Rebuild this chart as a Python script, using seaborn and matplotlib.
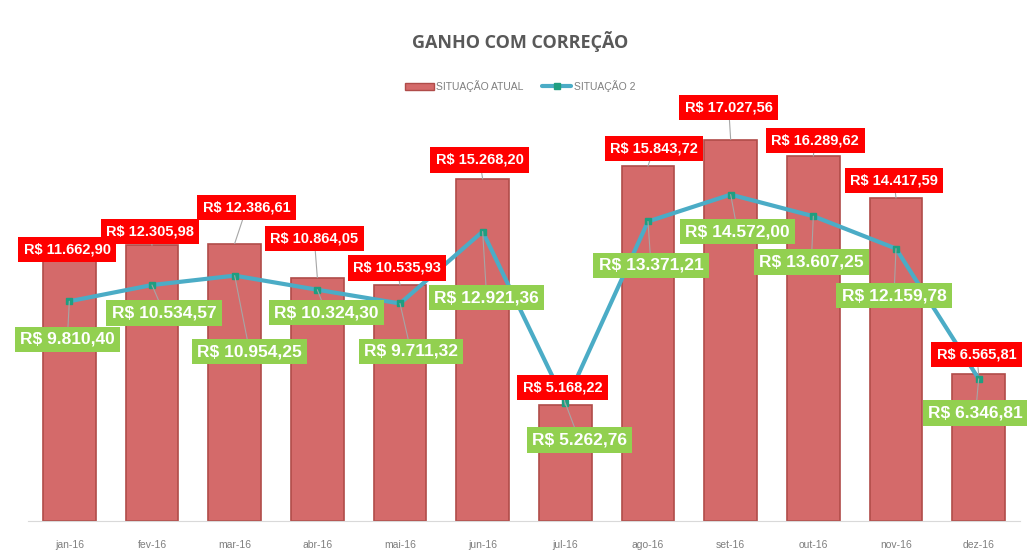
import pandas as pd
import matplotlib.pyplot as plt
import seaborn as sns
from matplotlib.patches import Patch
from matplotlib.lines import Line2D

meses = ['jan-16', 'fev-16', 'mar-16', 'abr-16', 'mai-16', 'jun-16',
         'jul-16', 'ago-16', 'set-16', 'out-16', 'nov-16', 'dez-16']
situacao_atual = [11662.90, 12305.98, 12386.61, 10864.05, 10535.93, 15268.20,
                  5168.22, 15843.72, 17027.56, 16289.62, 14417.59, 6565.81]
situacao_2 = [9810.40, 10534.57, 10954.25, 10324.30, 9711.32, 12921.36,
              5262.76, 13371.21, 14572.00, 13607.25, 12159.78, 6346.81]

df = pd.DataFrame({'Mes': meses, 'Atual': situacao_atual, 'Sit2': situacao_2})

def brl(v):
    s = f"{v:,.2f}"
    return "R$ " + s.replace(",", "X").replace(".", ",").replace("X", ".")

# label offsets in pixels (dx, dy)
off_red = [(-2, 10), (-2, 14), (12, 36), (-3, 39), (-3, 17), (-3, 19),
           (-3, 18), (6, 18), (-2, 32), (2, 16), (-2, 18), (-2, 19)]
off_green = [(-2, -38), (12, -28), (15, -76), (9, -23), (11, -48), (4, -66),
             (14, -37), (3, -44), (7, -37), (-2, -46), (-2, -47), (-3, -34)]

sns.set_style('white')
plt.rcParams['font.family'] = ['Liberation Sans', 'DejaVu Sans']

fig = plt.figure(figsize=(10.27, 5.57), dpi=100)
ax = fig.add_axes([28/1027, 36/557, 992/1027, 448/557])

sns.barplot(data=df, x='Mes', y='Atual', ax=ax, color='#D46A6A',
            width=0.64, edgecolor='#B04C49', linewidth=1.2, saturation=1)
ax.plot(range(len(meses)), situacao_2, color='#4BACC6', linewidth=3,
        marker='s', markersize=5, markerfacecolor='#1F9E80',
        markeredgecolor='#1F9E80', zorder=4)

ax.set_ylim(0, 20000)
ax.set_xlim(-0.5, len(meses) - 0.5)
ax.set_xlabel('')
ax.set_ylabel('')
ax.set_yticks([])
for s in ['top', 'right', 'left']:
    ax.spines[s].set_visible(False)
ax.spines['bottom'].set_color('#D9D9D9')
ax.tick_params(axis='x', length=0, pad=14, labelsize=7.5, labelcolor='#7F7F7F')

for i, v in enumerate(situacao_atual):
    ax.annotate(brl(v), (i, v), xytext=off_red[i], textcoords='offset pixels',
                ha='center', va='center', color='white', fontsize=10.5,
                fontweight='bold', zorder=6,
                bbox=dict(boxstyle='square,pad=0.38', fc='#FF0000', ec='none'),
                arrowprops=dict(arrowstyle='-', color='#A6A6A6', lw=0.8,
                                shrinkA=0, shrinkB=0))

for i, v in enumerate(situacao_2):
    ax.annotate(brl(v), (i, v), xytext=off_green[i], textcoords='offset pixels',
                ha='center', va='center', color='white', fontsize=12.5,
                fontweight='bold', zorder=5,
                bbox=dict(boxstyle='square,pad=0.3', fc='#92D050', ec='none'),
                arrowprops=dict(arrowstyle='-', color='#A6A6A6', lw=0.8,
                                shrinkA=0, shrinkB=0))

fig.text(520/1027, 1 - 42/557, 'GANHO COM CORREÇÃO', ha='center', va='center',
         fontsize=13, fontweight='bold', color='#595959', family=['Open Sans', 'DejaVu Sans'])

handles = [Patch(facecolor='#D46A6A', edgecolor='#B04C49'),
           Line2D([0], [0], color='#4BACC6', lw=3, marker='s', markersize=4,
                  markerfacecolor='#1F9E80', markeredgecolor='#1F9E80')]
fig.legend(handles, ['SITUAÇÃO ATUAL', 'SITUAÇÃO 2'], loc='center',
           bbox_to_anchor=(520/1027, 1 - 86/557), ncol=2, frameon=False,
           fontsize=7.5, labelcolor='#7F7F7F', handlelength=2.8,
           handletextpad=0.2, columnspacing=1.8)

plt.savefig('out.png', dpi=100)
